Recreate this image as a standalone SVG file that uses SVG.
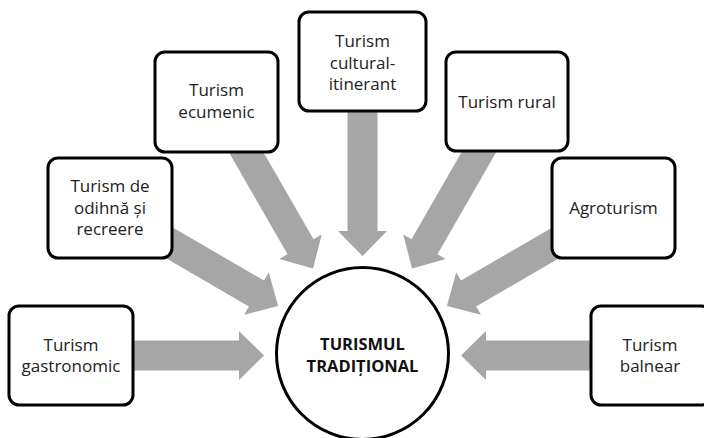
<svg xmlns="http://www.w3.org/2000/svg" width="704" height="438" viewBox="0 0 704 438">
<style>
.arr{fill:#a6a6a6;stroke:none}
.box{fill:#fff;stroke:#000;stroke-width:3}
.t{font-family:"Open Sans","Liberation Sans",sans-serif;font-size:17px;fill:#222;text-anchor:middle}
.c{font-family:"Open Sans","Liberation Sans",sans-serif;font-size:16.5px;font-weight:bold;fill:#111;text-anchor:middle}
</style>
<rect width="704" height="438" fill="#fff"/>
<g id="connectors">
<polygon class="arr" transform="translate(110 355.5) rotate(0)" points="0,-15 129,-15 129,-24.5 154,0 129,24.5 129,15 0,15"/>
<polygon class="arr" transform="translate(615 355.5) rotate(180)" points="0,-15 129,-15 129,-24.5 154,0 129,24.5 129,15 0,15"/>
<polygon class="arr" transform="translate(362.5 100) rotate(90)" points="0,-15 131,-15 131,-24.5 156,0 131,24.5 131,15 0,15"/>
<polygon class="arr" transform="translate(241 143.3) rotate(60.1)" points="0,-15 119.4,-15 119.4,-24.5 144.4,0 119.4,24.5 119.4,15 0,15"/>
<polygon class="arr" transform="translate(484 143.3) rotate(119.9)" points="0,-15 119.4,-15 119.4,-24.5 144.4,0 119.4,24.5 119.4,15 0,15"/>
<polygon class="arr" transform="translate(565 237.4) rotate(149.8)" points="0,-15 111.6,-15 111.6,-24.5 136.6,0 111.6,24.5 111.6,15 0,15"/>
<polygon class="arr" transform="translate(160 237.4) rotate(30.2)" points="0,-15 111.6,-15 111.6,-24.5 136.6,0 111.6,24.5 111.6,15 0,15"/>
</g>
<g id="center">
<circle cx="362.5" cy="353.5" r="86" fill="#fff" stroke="#000" stroke-width="3"/>
<text class="c" x="362.5" y="350">TURISMUL</text>
<text class="c" x="362.5" y="372">TRADIȚIONAL</text>
</g>
<g id="gastronomic">
<rect class="box" x="9" y="306" width="124" height="99" rx="10"/>
<text class="t" x="71" y="351">Turism</text>
<text class="t" x="71" y="372">gastronomic</text>
</g>
<g id="odihna">
<rect class="box" x="48" y="158" width="124" height="100" rx="10"/>
<text class="t" x="110" y="192">Turism de</text>
<text class="t" x="110" y="213.5">odihnă și</text>
<text class="t" x="110" y="235">recreere</text>
</g>
<g id="ecumenic">
<rect class="box" x="155" y="52" width="123" height="100" rx="10"/>
<text class="t" x="216.5" y="96">Turism</text>
<text class="t" x="216.5" y="117.5">ecumenic</text>
</g>
<g id="cultural">
<rect class="box" x="299" y="12" width="127" height="99" rx="10"/>
<text class="t" x="362.5" y="47">Turism</text>
<text class="t" x="362.5" y="68.5">cultural-</text>
<text class="t" x="362.5" y="90">itinerant</text>
</g>
<g id="rural">
<rect class="box" x="446" y="52" width="122" height="99" rx="10"/>
<text class="t" x="507" y="108">Turism rural</text>
</g>
<g id="agroturism">
<rect class="box" x="552" y="158" width="123" height="100" rx="10"/>
<text class="t" x="613.5" y="214">Agroturism</text>
</g>
<g id="balnear">
<rect class="box" x="591" y="306" width="120" height="99" rx="10"/>
<text class="t" x="650" y="351">Turism</text>
<text class="t" x="650" y="372">balnear</text>
</g>
</svg>
